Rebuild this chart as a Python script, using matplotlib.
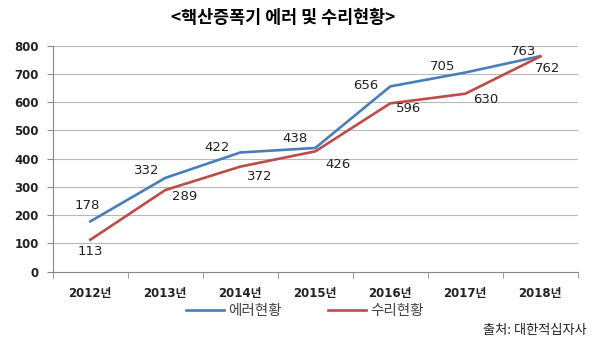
import numpy as np
import matplotlib.pyplot as plt

plt.rcParams['font.family'] = ['DejaVu Sans', 'Noto Sans CJK KR']

years = ['2012년', '2013년', '2014년', '2015년', '2016년', '2017년', '2018년']
errors = [178, 332, 422, 438, 656, 705, 763]
repairs = [113, 289, 372, 426, 596, 630, 762]
yticks = [0, 100, 200, 300, 400, 500, 600, 700, 800]

blue = '#4a7ebb'
red = '#be4b48'

# label offsets (px) relative to each point
err_off = [(-3, 16), (-19, 7), (-23, 5), (-20, 9), (-25, 1), (-23, 6), (-17, 5)]
rep_off = [(0, -12), (19, -6), (19, -10), (23, -13), (18, -5), (20, -6), (7, -12)]

fig = plt.figure(figsize=(6, 3.56), dpi=100)
ax = fig.add_axes([0.088, 0.2368, 0.875, 0.6348])

x = np.arange(len(years))
ax.plot(x, errors, color=blue, lw=1.9, label='에러현황')
ax.plot(x, repairs, color=red, lw=1.9, label='수리현황')

for i in range(len(years)):
    ax.annotate(str(errors[i]), (x[i], errors[i]),
                xytext=(err_off[i][0] * 0.72, err_off[i][1] * 0.72),
                textcoords='offset points', ha='center', va='center',
                fontsize=9.5, color='#222222')
    ax.annotate(str(repairs[i]), (x[i], repairs[i]),
                xytext=(rep_off[i][0] * 0.72, rep_off[i][1] * 0.72),
                textcoords='offset points', ha='center', va='center',
                fontsize=9.5, color='#222222')

ax.set_xlim(-0.5, len(years) - 0.5)
ax.set_ylim(0, 800)
ax.set_yticks(yticks)
ax.set_yticklabels([str(v) for v in yticks], fontsize=8.5, fontweight='bold',
                   color='#222222')
ax.yaxis.grid(True, color='#b8b8b8', lw=0.8)
ax.set_axisbelow(True)

ax.set_xticks(x)
ax.set_xticklabels(years, fontsize=8.5, fontweight='bold', color='#222222')
ax.tick_params(axis='x', which='major', length=0, pad=11)
ax.set_xticks(np.arange(-0.5, len(years)), minor=True)
ax.tick_params(axis='x', which='minor', length=4, color='#888888')
ax.tick_params(axis='y', length=4, color='#888888', pad=6)

for s in ['top', 'right']:
    ax.spines[s].set_visible(False)
ax.spines['left'].set_color('#888888')
ax.spines['bottom'].set_color('#888888')

fig.text(0.472, 0.95, '<핵산증폭기 에러 및 수리현황>', ha='center', va='center',
         fontsize=12.5, fontweight='bold', family=['Noto Sans CJK KR'])

leg = fig.legend(loc='center', bbox_to_anchor=(0.508, 0.125), ncol=2,
                 frameon=False, handlelength=2.6, handletextpad=0.3,
                 columnspacing=3.2, prop={'family': 'Noto Sans CJK KR', 'size': 10.5})
for t in leg.get_texts():
    t.set_color('#444444')

fig.text(0.978, 0.073, '출처: 대한적십자사', ha='right', va='center',
         fontsize=9.5, family=['Noto Sans CJK KR'], color='#222222')

fig.savefig('out.png', dpi=100)
